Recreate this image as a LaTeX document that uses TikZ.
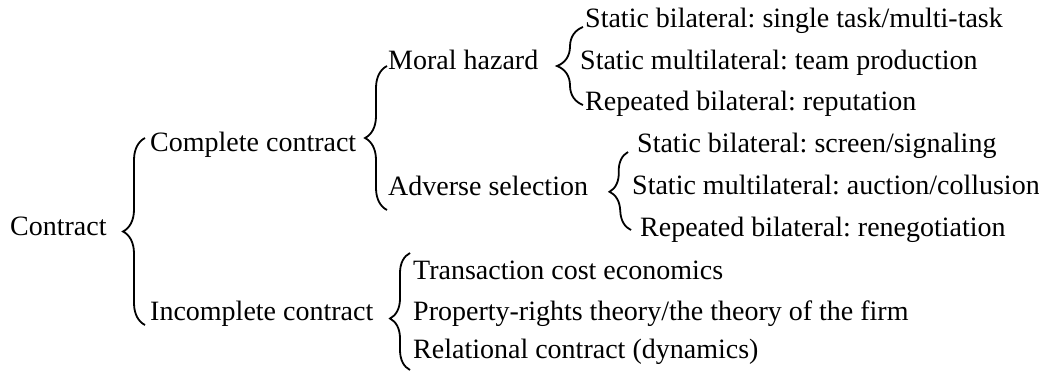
\documentclass[tikz,border=0pt]{standalone}
\usepackage{fontspec}
\setmainfont{Liberation Serif}
\newfontfamily\treefont{Liberation Serif}
\usepackage{tikz}
\usetikzlibrary{positioning,decorations.pathreplacing}
\tikzset{
  item/.style={anchor=west, inner sep=0pt, text height=0.68em, text depth=0.18em,
               font=\treefont\fontsize{28}{33}\selectfont},
  brc/.style={decorate, decoration={brace, amplitude=22pt}, line width=1.8pt},
}
\frenchspacing

\begin{document}
\begin{tikzpicture}[x=1pt, y=-1pt]
  \useasboundingbox (0,0) rectangle (1039,372);

  \node[item] (contract) at (10,233) {Contract};
  \node[item] (comp) at (150,149) {Complete contract};
  \node[item] (inc) at (150,318) {Incomplete contract};

  \node[item] (moral) at (388,67) {Moral hazard};
  \node[item] (adv) at (388,193) {Adverse selection};

  \node[item] (mh1) at (585,25) {Static bilateral: single task/multi-task};
  \node[item] (mh2) at (580,67) {Static multilateral: team production};
  \node[item] (mh3) at (585,108) {Repeated bilateral: reputation};

  \node[item] (as1) at (637,150) {Static bilateral: screen/signaling};
  \node[item] (as2) at (632,192) {Static multilateral: auction/collusion};
  \node[item] (as3) at (640,234) {Repeated bilateral: renegotiation};

  \node[item] (ic1) at (413,277) {Transaction cost economics};
  \node[item] (ic2) at (413,318) {Property-rights theory/the theory of the firm};
  \node[item] (ic3) at (413,356) {Relational contract (dynamics)};

  % braces, drawn bottom to top so the tip points left
  \draw[brc] ([shift={(-5,7)}]inc.west) -- ([shift={(-5,-11)}]comp.west);
  \draw[brc] ([shift={(-1,17)}]adv.west) -- ([shift={(-1,-1)}]moral.west);
  \draw[brc, decoration={amplitude=26pt}] ([shift={(-2,-3)}]mh3.west) -- ([shift={(-2,2)}]mh1.west);
  \draw[brc, decoration={amplitude=20pt}] ([shift={(-9,-4)}]as3.west) -- ([shift={(-9,2)}]as1.west);
  \draw[brc, decoration={amplitude=20pt, aspect=0.44}] ([shift={(-3,14)}]ic3.west) -- ([shift={(-3,-24)}]ic1.west);

\end{tikzpicture}
\end{document}
